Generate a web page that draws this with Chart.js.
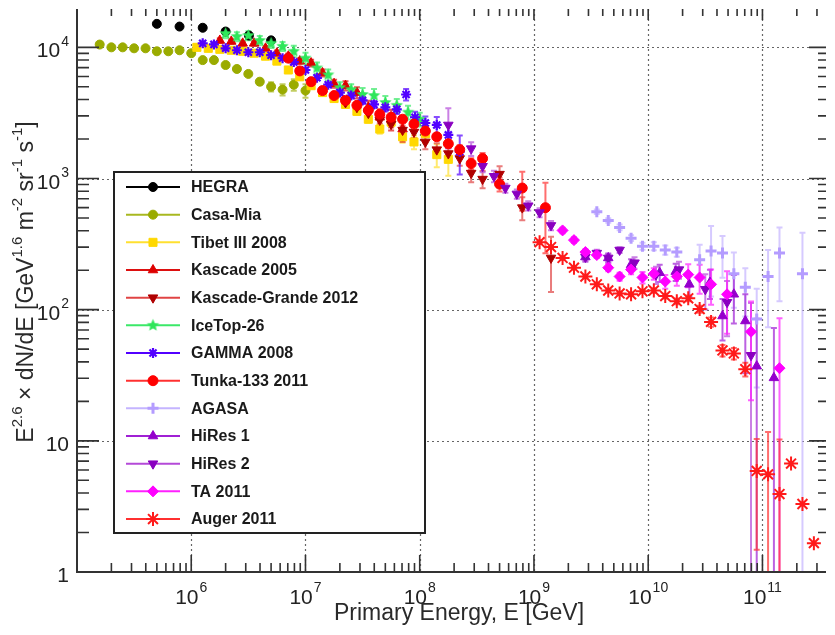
<!DOCTYPE html>
<html>
<head>
<meta charset="utf-8">
<script src="https://cdn.jsdelivr.net/npm/chart.js"></script>
<style>
  html, body { margin: 0; padding: 0; background: #fff; overflow: hidden; }
  #wrap { width: 835px; height: 635px; }
</style>
</head>
<body>
<div id="wrap"><canvas id="spectrum" width="835" height="635"></canvas></div>
<script>
// energies in GeV, flux as E^2.6 dN/dE, err = relative error (symmetric)
const hegraE = [5.0e5, 7.9e5, 1.26e6, 2.0e6, 3.2e6, 5.0e6];
const hegraFlux = [15100, 14400, 14100, 13200, 12300, 11300];
const hegraErr = [0.03, 0.03, 0.03, 0.03, 0.03, 0.03];

const casaE = [1.58e5, 2.0e5, 2.51e5, 3.16e5, 3.98e5, 5.0e5, 6.3e5, 7.9e5, 1.0e6, 1.26e6, 1.58e6, 2.0e6, 2.51e6, 3.16e6, 3.98e6, 5.0e6, 6.3e6, 7.9e6, 1.0e7];
const casaFlux = [10500, 10000, 10000, 9830, 9830, 9330, 9330, 9500, 9020, 7990, 7990, 7330, 6840, 6270, 5470, 5010, 4760, 5190, 4680];
const casaErr = [0.02, 0.02, 0.02, 0.02, 0.02, 0.02, 0.02, 0.02, 0.02, 0.02, 0.02, 0.02, 0.02, 0.03, 0.05, 0.08, 0.1, 0.1, 0.12];

const tibetE = [1.12e6, 1.41e6, 1.78e6, 2.24e6, 2.82e6, 3.55e6, 4.47e6, 5.62e6, 7.08e6, 8.91e6, 1.12e7, 1.41e7, 1.78e7, 2.24e7, 2.82e7, 3.55e7, 4.47e7, 5.62e7, 7.08e7, 8.91e7, 1.12e8, 1.41e8, 1.78e8];
const tibetFlux = [10000, 9830, 9660, 9500, 9330, 9020, 8560, 7850, 6720, 5960, 5100, 4520, 4070, 3670, 3250, 2830, 2380, 2690, 2080, 1900, 2190, 1520, 1400];
const tibetErr = [0.03, 0.03, 0.03, 0.03, 0.03, 0.03, 0.03, 0.03, 0.04, 0.04, 0.04, 0.05, 0.05, 0.05, 0.06, 0.06, 0.08, 0.08, 0.1, 0.12, 0.15, 0.2, 0.25];

const kascadeE = [1.78e6, 2.24e6, 2.82e6, 3.55e6, 4.47e6, 5.62e6, 7.08e6, 8.91e6, 1.12e7, 1.41e7, 1.78e7, 2.24e7, 2.82e7, 3.55e7, 4.47e7, 5.62e7, 7.08e7];
const kascadeFlux = [11280, 11090, 10720, 10720, 9830, 9020, 8560, 7850, 7590, 6380, 5280, 5100, 4520, 3490, 2930, 2830, 2380];
const kascadeErr = [0.04, 0.04, 0.04, 0.04, 0.04, 0.05, 0.05, 0.05, 0.06, 0.06, 0.07, 0.08, 0.1, 0.12, 0.15, 0.18, 0.2];

const grandeE = [2.24e7, 2.82e7, 3.55e7, 4.47e7, 5.62e7, 7.08e7, 8.91e7, 1.12e8, 1.41e8, 1.78e8, 2.24e8, 2.82e8, 3.55e8, 5.0e8, 7.9e8, 1.41e9];
const grandeFlux = [3800, 3490, 3150, 2790, 2600, 2340, 2260, 1900, 1660, 1550, 1420, 1100, 990, 1080, 600, 248];
const grandeErr = [0.05, 0.05, 0.05, 0.06, 0.06, 0.08, 0.1, 0.12, 0.12, 0.12, 0.12, 0.15, 0.15, 0.15, 0.2, 0.45];

const icetopE = [2.0e6, 2.51e6, 3.16e6, 3.98e6, 5.0e6, 6.3e6, 7.9e6, 1.0e7, 1.26e7, 1.58e7, 2.0e7, 2.51e7, 3.16e7, 3.98e7, 5.0e7, 6.3e7, 7.9e7, 1.0e8];
const icetopFlux = [12740, 12090, 12300, 11280, 10720, 10170, 9330, 8270, 6960, 6170, 4930, 4760, 4370, 4290, 3800, 3610, 3200, 2830];
const icetopErr = [0.08, 0.08, 0.08, 0.08, 0.08, 0.08, 0.1, 0.1, 0.1, 0.1, 0.1, 0.1, 0.12, 0.12, 0.12, 0.12, 0.12, 0.12];

const gammaE = [1.26e6, 1.58e6, 2.0e6, 2.51e6, 3.16e6, 3.98e6, 5.0e6, 6.3e6, 7.9e6, 1.0e7, 1.26e7, 1.58e7, 2.0e7, 2.51e7, 3.16e7, 3.98e7, 5.0e7, 6.3e7, 7.6e7, 9.1e7, 1.12e8, 1.41e8, 1.78e8, 2.24e8];
const gammaFlux = [10720, 10530, 9830, 9500, 9170, 9170, 8710, 8270, 7720, 6720, 5860, 5190, 4520, 4290, 3940, 3670, 3490, 3370, 4370, 2930, 2650, 2560, 2150, 1600];
const gammaErr = [0.03, 0.03, 0.03, 0.03, 0.03, 0.03, 0.03, 0.03, 0.03, 0.03, 0.04, 0.04, 0.05, 0.05, 0.06, 0.06, 0.07, 0.08, 0.1, 0.1, 0.12, 0.15, 0.2, 0.33];

const tunkaE = [7.08e6, 8.91e6, 1.12e7, 1.41e7, 1.78e7, 2.24e7, 2.82e7, 3.55e7, 4.47e7, 5.62e7, 7.08e7, 8.91e7, 1.12e8, 1.41e8, 1.78e8, 2.24e8, 2.82e8, 3.55e8, 5.0e8, 7.9e8, 1.26e9];
const tunkaFlux = [8270, 6610, 5470, 4680, 4290, 3940, 3610, 3310, 3090, 2930, 2830, 2600, 2300, 2080, 1840, 1660, 1300, 1420, 906, 846, 599];
const tunkaErr = [0.03, 0.03, 0.03, 0.03, 0.03, 0.03, 0.03, 0.04, 0.04, 0.04, 0.05, 0.05, 0.06, 0.06, 0.07, 0.08, 0.1, 0.1, 0.12, 0.33, 0.55];

const agasaE = [3.55e9, 4.47e9, 5.62e9, 7.08e9, 8.91e9, 1.12e10, 1.41e10, 1.78e10, 2.82e10, 3.55e10, 4.47e10, 5.62e10, 7.08e10, 8.91e10, 1.12e11, 1.41e11, 2.24e11];
const agasaFlux = [559, 479, 424, 351, 305, 305, 285, 275, 240, 280, 270, 188, 148, 85, 179, 270, 188];
const agasaErr = [0.04, 0.04, 0.05, 0.05, 0.06, 0.07, 0.08, 0.08, 0.3, 0.55, 0.35, 0.45, 0.4, 0.7, 0.59, 0.57, 1.05];

const hires1E = [2.82e9, 4.47e9, 7.08e9, 1.26e10, 1.74e10, 2.29e10, 3.47e10, 4.47e10, 5.62e10, 7.08e10, 8.91e10, 1.26e11];
const hires1Flux = [252, 248, 220, 191, 195, 156, 161, 89.5, 131, 82, 37.1, 30.2];
const hires1Err = [0.08, 0.08, 0.1, 0.15, 0.15, 0.2, 0.25, 0.35, 0.4, 0.6, 1.3, 1.4];

const hires2E = [1.78e8, 2.82e8, 3.55e8, 4.47e8, 5.62e8, 7.08e8, 8.91e8, 1.12e9, 1.41e9, 2.82e9, 3.55e9, 4.47e9, 5.62e9, 7.59e9, 1.17e10, 1.86e10, 3.16e10, 4.9e10, 7.94e10];
const hires2Flux = [2560, 1690, 1240, 1040, 846, 763, 620, 550, 439, 252, 270, 248, 285, 228, 185, 202, 143, 114, 44.9];
const hires2Err = [0.34, 0.12, 0.1, 0.1, 0.08, 0.08, 0.08, 0.08, 0.08, 0.06, 0.06, 0.06, 0.05, 0.1, 0.15, 0.15, 0.3, 0.45, 1.5];

const taE = [1.78e9, 2.24e9, 2.82e9, 3.55e9, 4.47e9, 5.62e9, 7.08e9, 8.91e9, 1.12e10, 1.41e10, 1.78e10, 2.24e10, 2.82e10, 3.55e10, 4.9e10, 7.94e10, 1.41e11];
const taFlux = [402, 339, 275, 261, 209, 179, 202, 176, 188, 164, 179, 185, 176, 156, 131, 67.9, 35.8];
const taErr = [0.05, 0.05, 0.05, 0.05, 0.06, 0.07, 0.08, 0.1, 0.1, 0.12, 0.15, 0.2, 0.25, 0.3, 0.5, 0.7, 1.4];

const augerE = [1.12e9, 1.41e9, 1.78e9, 2.24e9, 2.82e9, 3.55e9, 4.47e9, 5.62e9, 7.08e9, 8.91e9, 1.12e10, 1.41e10, 1.78e10, 2.24e10, 2.82e10, 3.55e10, 4.47e10, 5.62e10, 7.08e10, 8.91e10, 1.12e11, 1.41e11, 1.78e11, 2.24e11, 2.82e11];
const augerFlux = [327, 300, 248, 209, 179, 156, 140, 133, 131, 138, 140, 127, 116, 122, 101, 80.7, 48.9, 46.4, 35.2, 5.9, 5.55, 3.93, 6.71, 3.3, 1.66];
const augerErr = [0.03, 0.03, 0.03, 0.03, 0.03, 0.03, 0.03, 0.03, 0.03, 0.03, 0.04, 0.04, 0.05, 0.05, 0.06, 0.08, 0.1, 0.1, 0.12, 0.75, 1.1, 1.6, 0, 0, 0];

// axis labels
const xTickValues = [1e6, 1e7, 1e8, 1e9, 1e10, 1e11];
const xTickLabels = [['10', '6'], ['10', '7'], ['10', '8'], ['10', '9'], ['10', '10'], ['10', '11']];
const yTickValues = [1, 10, 100, 1000, 10000];
const yTickLabels = [['1', ''], ['10', ''], ['10', '2'], ['10', '3'], ['10', '4']];

const FONT = '"Liberation Sans", Arial, Helvetica, sans-serif';

function makeStar(color, r) {
  const c = document.createElement('canvas');
  const s = Math.ceil(r * 2 + 2);
  c.width = s;
  c.height = s;
  const g = c.getContext('2d');
  g.fillStyle = color;
  g.beginPath();
  for (let i = 0; i < 10; i++) {
    const rr = i % 2 ? r * 0.45 : r;
    const a = -Math.PI / 2 + i * Math.PI / 5;
    g.lineTo(s / 2 + rr * Math.cos(a), s / 2 + rr * Math.sin(a));
  }
  g.closePath();
  g.fill();
  return c;
}

const series = [
  { label: 'HEGRA', e: hegraE, flux: hegraFlux, err: hegraErr, color: '#000000', line: '#000000', style: 'circle', radius: 4.5, bw: 1 },
  { label: 'Casa-Mia', e: casaE, flux: casaFlux, err: casaErr, color: '#9aab00', line: '#a8b820', style: 'circle', radius: 4.5, bw: 1 },
  { label: 'Tibet III 2008', e: tibetE, flux: tibetFlux, err: tibetErr, color: '#ffd800', line: '#ffe030', style: 'rect', radius: 5.7, bw: 1 },
  { label: 'Kascade 2005', e: kascadeE, flux: kascadeFlux, err: kascadeErr, color: '#dd0000', line: '#dd1010', style: 'triangle', radius: 5.5, bw: 1 },
  { label: 'Kascade-Grande 2012', e: grandeE, flux: grandeFlux, err: grandeErr, color: '#b00000', line: '#e04444', style: 'triangle', rotation: 180, radius: 5.5, bw: 1 },
  { label: 'IceTop-26', e: icetopE, flux: icetopFlux, err: icetopErr, color: '#2ee65a', line: '#3be868', style: makeStar('#2ee65a', 6.5), radius: 6, bw: 1 },
  { label: 'GAMMA 2008', e: gammaE, flux: gammaFlux, err: gammaErr, color: '#5200ff', line: '#5200ff', style: 'star', radius: 5, bw: 2.2 },
  { label: 'Tunka-133 2011', e: tunkaE, flux: tunkaFlux, err: tunkaErr, color: '#ff0000', line: '#ff3030', style: 'circle', radius: 5, bw: 1 },
  { label: 'AGASA', e: agasaE, flux: agasaFlux, err: agasaErr, color: '#b49cff', line: '#c4b4ff', style: 'cross', radius: 5.5, bw: 3 },
  { label: 'HiRes 1', e: hires1E, flux: hires1Flux, err: hires1Err, color: '#9400cc', line: '#a020d4', style: 'triangle', radius: 5.5, bw: 1 },
  { label: 'HiRes 2', e: hires2E, flux: hires2Flux, err: hires2Err, color: '#8a00c0', line: '#b44ad8', style: 'triangle', rotation: 180, radius: 5.5, bw: 1 },
  { label: 'TA 2011', e: taE, flux: taFlux, err: taErr, color: '#ff00ff', line: '#ff20ff', style: 'rectRot', radius: 5.5, bw: 1 },
  { label: 'Auger 2011', e: augerE, flux: augerFlux, err: augerErr, color: '#ff1a1a', line: '#ff3030', style: 'star', radius: 7, bw: 2 }
];

const datasets = series.map((s, i) => ({
  label: s.label,
  data: s.e.map((x, k) => ({ x: x, y: s.flux[k] })),
  pointStyle: s.style,
  pointRotation: s.rotation || 0,
  pointRadius: s.radius,
  pointBorderWidth: s.bw,
  pointBackgroundColor: s.color,
  pointBorderColor: s.color,
  showLine: false,
  order: 100 - i
}));

function supLabel(ctx, base, sup, x, y, size, align) {
  const supSize = Math.round(size * 0.68);
  ctx.font = size + 'px ' + FONT;
  const wb = ctx.measureText(base).width;
  ctx.font = supSize + 'px ' + FONT;
  const ws = sup ? ctx.measureText(sup).width + 1 : 0;
  let left = x;
  if (align === 'right') left = x - wb - ws;
  if (align === 'center') left = x - (wb + ws) / 2;
  ctx.textAlign = 'left';
  ctx.textBaseline = 'alphabetic';
  ctx.font = size + 'px ' + FONT;
  ctx.fillText(base, left, y);
  if (sup) {
    ctx.font = supSize + 'px ' + FONT;
    ctx.fillText(sup, left + wb + 1, y - size * 0.55);
  }
}

function richText(ctx, parts, size) {
  const supSize = Math.round(size * 0.66);
  let w = 0;
  parts.forEach(p => {
    ctx.font = (p.sup ? supSize : size) + 'px ' + FONT;
    w += ctx.measureText(p.t).width;
  });
  let x = -w / 2;
  parts.forEach(p => {
    ctx.font = (p.sup ? supSize : size) + 'px ' + FONT;
    ctx.fillText(p.t, x, p.sup ? -size * 0.5 : 0);
    x += ctx.measureText(p.t).width;
  });
}

const frame = {
  id: 'frame',
  beforeDatasetsDraw(chart) {
    const { ctx, chartArea: a, scales: { x, y } } = chart;
    ctx.save();
    ctx.setLineDash([2, 3]);
    ctx.strokeStyle = '#666';
    ctx.lineWidth = 1.2;
    xTickValues.forEach(v => {
      const px = Math.round(x.getPixelForValue(v)) + 0.5;
      ctx.beginPath();
      ctx.moveTo(px, a.top);
      ctx.lineTo(px, a.bottom);
      ctx.stroke();
    });
    yTickValues.slice(1).forEach(v => {
      const py = Math.round(y.getPixelForValue(v)) + 0.5;
      ctx.beginPath();
      ctx.moveTo(a.left, py);
      ctx.lineTo(a.right, py);
      ctx.stroke();
    });
    ctx.restore();
  },
  afterDatasetsDraw(chart) {
    const { ctx, chartArea: a, scales: { x, y } } = chart;
    ctx.save();
    ctx.strokeStyle = '#333';
    ctx.lineWidth = 1.6;
    ctx.beginPath();
    for (let d = 5; d <= 11; d++) {
      for (let m = 1; m <= 9; m++) {
        const v = m * Math.pow(10, d);
        if (v < x.min || v > x.max) continue;
        const px = x.getPixelForValue(v);
        const major = m === 1;
        ctx.moveTo(px, a.bottom);
        ctx.lineTo(px, a.bottom - (major ? 17 : 9));
        ctx.moveTo(px, a.top);
        ctx.lineTo(px, a.top + (major ? 11 : 7));
      }
    }
    for (let d = 0; d <= 4; d++) {
      for (let m = 1; m <= 9; m++) {
        const v = m * Math.pow(10, d);
        if (v < y.min || v > y.max) continue;
        const py = y.getPixelForValue(v);
        const major = m === 1;
        ctx.moveTo(a.left, py);
        ctx.lineTo(a.left + (major ? 22 : 12), py);
        ctx.moveTo(a.right, py);
        ctx.lineTo(a.right - (major ? 17 : 8), py);
      }
    }
    ctx.stroke();
    ctx.lineWidth = 2;
    ctx.beginPath();
    ctx.moveTo(a.left, a.top);
    ctx.lineTo(a.left, a.bottom);
    ctx.lineTo(a.right, a.bottom);
    ctx.stroke();

    ctx.fillStyle = '#222';
    xTickValues.forEach((v, i) => {
      supLabel(ctx, xTickLabels[i][0], xTickLabels[i][1], x.getPixelForValue(v), 604, 21, 'center');
    });
    yTickValues.forEach((v, i) => {
      supLabel(ctx, yTickLabels[i][0], yTickLabels[i][1], 69, y.getPixelForValue(v) + 10, 21, 'right');
    });

    ctx.fillStyle = '#2a2a2a';
    ctx.font = '23px ' + FONT;
    ctx.textAlign = 'center';
    ctx.fillText('Primary Energy, E [GeV]', 459, 620);

    ctx.save();
    ctx.translate(33, 282);
    ctx.rotate(-Math.PI / 2);
    ctx.textAlign = 'left';
    richText(ctx, [
      { t: 'E' }, { t: '2.6', sup: true }, { t: ' \u00d7 dN/dE [GeV' }, { t: '1.6', sup: true },
      { t: ' m' }, { t: '-2', sup: true }, { t: ' sr' }, { t: '-1', sup: true },
      { t: ' s' }, { t: '-1', sup: true }, { t: ']' }
    ], 23);
    ctx.restore();
    ctx.restore();
  }
};

const errorBars = {
  id: 'errorBars',
  beforeDatasetsDraw(chart) {
    const { ctx, chartArea: a, scales: { x, y } } = chart;
    ctx.save();
    ctx.beginPath();
    ctx.rect(a.left, a.top, a.right - a.left, a.bottom - a.top);
    ctx.clip();
    ctx.lineWidth = 2;
    ctx.globalAlpha = 0.7;
    series.forEach(s => {
      ctx.strokeStyle = s.line;
      s.e.forEach((ev, i) => {
        const f = s.err[i];
        if (!f) return;
        const px = x.getPixelForValue(ev);
        const top = y.getPixelForValue(s.flux[i] * (1 + f));
        const lo = s.flux[i] * (1 - f);
        const bot = lo > y.min ? y.getPixelForValue(lo) : a.bottom + 4;
        ctx.beginPath();
        ctx.moveTo(px, top);
        ctx.lineTo(px, bot);
        ctx.moveTo(px - 3, top);
        ctx.lineTo(px + 3, top);
        if (lo > y.min) {
          ctx.moveTo(px - 3, bot);
          ctx.lineTo(px + 3, bot);
        }
        ctx.stroke();
      });
    });
    ctx.restore();
  }
};

const legendBox = {
  id: 'legendBox',
  afterDraw(chart) {
    const { ctx } = chart;
    const box = { left: 114, top: 172, right: 425, bottom: 533 };
    ctx.save();
    ctx.fillStyle = '#fff';
    ctx.fillRect(box.left, box.top, box.right - box.left, box.bottom - box.top);
    ctx.strokeStyle = '#222';
    ctx.lineWidth = 2;
    ctx.strokeRect(box.left, box.top, box.right - box.left, box.bottom - box.top);
    series.forEach((s, i) => {
      const cy = 187 + i * 27.67;
      ctx.strokeStyle = s.line;
      ctx.lineWidth = 2;
      ctx.beginPath();
      ctx.moveTo(126, cy);
      ctx.lineTo(180, cy);
      ctx.stroke();
      ctx.fillStyle = s.color;
      ctx.strokeStyle = s.color;
      ctx.lineWidth = s.bw;
      Chart.helpers.drawPoint(ctx, {
        pointStyle: s.style,
        rotation: s.rotation || 0,
        radius: s.radius,
        borderWidth: s.bw
      }, 153, cy);
      ctx.fillStyle = '#1a1a1a';
      ctx.font = 'bold 16px ' + FONT;
      ctx.textAlign = 'left';
      ctx.textBaseline = 'middle';
      ctx.fillText(s.label, 191, cy + 1);
    });
    ctx.restore();
  }
};

const ctxSpectrum = document.getElementById('spectrum');

new Chart(ctxSpectrum, {
  type: 'scatter',
  data: { datasets: datasets },
  options: {
    responsive: false,
    animation: false,
    layout: { padding: { left: 77, right: 0, top: 0, bottom: 63 } },
    scales: {
      x: { type: 'logarithmic', min: 1e5, max: 3.6e11, display: false },
      y: { type: 'logarithmic', min: 1, max: 1.96e4, display: false }
    },
    plugins: {
      legend: { display: false },
      tooltip: { enabled: false }
    }
  },
  plugins: [frame, errorBars, legendBox]
});
</script>
</body>
</html>
